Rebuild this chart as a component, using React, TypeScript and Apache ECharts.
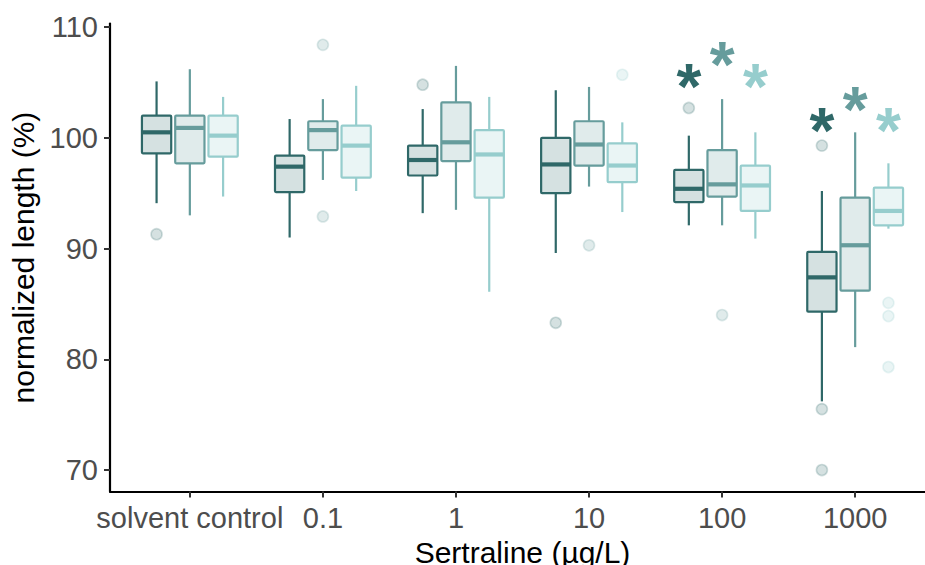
import React, { useEffect, useRef } from "react";
import * as echarts from "echarts";

// Concentration groups along the x axis
const categories = ["solvent control", "0.1", "1", "10", "100", "1000"];

// Box statistics per group: [min whisker, Q1, median, Q3, max whisker]
const boxesDark = [
  [94.1, 98.6, 100.5, 102.0, 105.1],
  [91.0, 95.1, 97.4, 98.4, 101.7],
  [93.2, 96.6, 98.0, 99.3, 102.6],
  [89.6, 95.0, 97.6, 100.0, 104.3],
  [92.1, 94.2, 95.4, 97.1, 100.2],
  [76.2, 84.3, 87.4, 89.7, 95.2],
];
const boxesMid = [
  [93.0, 97.7, 100.9, 102.0, 106.2],
  [96.2, 98.9, 100.7, 101.5, 103.5],
  [93.5, 97.9, 99.6, 103.2, 106.5],
  [95.6, 97.5, 99.4, 101.5, 104.6],
  [92.1, 94.7, 95.8, 98.9, 103.5],
  [81.1, 86.2, 90.3, 94.6, 100.5],
];
const boxesLight = [
  [94.7, 98.3, 100.2, 102.0, 103.7],
  [95.2, 96.4, 99.3, 101.1, 104.7],
  [86.1, 94.6, 98.5, 100.7, 103.7],
  [93.3, 96.0, 97.5, 99.5, 101.4],
  [90.9, 93.4, 95.7, 97.5, 100.5],
  [91.8, 92.1, 93.4, 95.5, 97.7],
];

// Outliers per group, listed by category
const outliersDark = [[91.3], [], [104.8], [83.3], [102.7], [99.3, 75.5, 70.0]];
const outliersMid = [[], [108.4, 92.9], [], [90.3], [84.0], []];
const outliersLight = [[], [], [], [105.7], [], [85.1, 83.9, 79.3]];

// Significance markers: categories and heights for each group
const starCategories = ["100", "1000"];
const starLevelsDark = [105.4, 101.4];
const starLevelsMid = [107.4, 103.35];
const starLevelsLight = [105.4, 101.4];

const yTicks = [70, 80, 90, 100, 110];

const COLORS = ["#2F6868", "#669C9C", "#96CDCD"];
const FONT = "'Liberation Sans', Arial, Helvetica, sans-serif";
const DODGE = [-0.25, 0, 0.25];
const BOX_W = 0.22;
const STAR_SIZE = 64;

function rgba(hex: string, a: number) {
  const n = parseInt(hex.slice(1), 16);
  return `rgba(${(n >> 16) & 255},${(n >> 8) & 255},${n & 255},${a})`;
}

function boxSeries(boxes: number[][], k: number) {
  const color = COLORS[k];
  return {
    type: "custom",
    name: "box" + k,
    z: 2,
    encode: { x: 0, y: [1, 2, 3, 4, 5] },
    data: boxes.map((b, i) => [i, ...b]),
    renderItem: (_params: any, api: any) => {
      const x = api.value(0) + DODGE[k];
      const [vMin, q1, med, q3, vMax] = [1, 2, 3, 4, 5].map((d) => api.value(d));
      const pMin = api.coord([x, vMin]);
      const pQ1 = api.coord([x, q1]);
      const pMed = api.coord([x, med]);
      const pQ3 = api.coord([x, q3]);
      const pMax = api.coord([x, vMax]);
      const left = api.coord([x - BOX_W / 2, q1])[0];
      const right = api.coord([x + BOX_W / 2, q1])[0];
      const lineStyle = { stroke: color, lineWidth: 2.2, fill: null };
      return {
        type: "group",
        children: [
          { type: "line", shape: { x1: pMax[0], y1: pMax[1], x2: pQ3[0], y2: pQ3[1] }, style: lineStyle },
          { type: "line", shape: { x1: pMin[0], y1: pMin[1], x2: pQ1[0], y2: pQ1[1] }, style: lineStyle },
          {
            type: "rect",
            shape: { x: left, y: pQ3[1], width: right - left, height: pQ1[1] - pQ3[1], r: 1 },
            style: { fill: rgba(color, 0.2), stroke: color, lineWidth: 2.2 },
          },
          {
            type: "line",
            shape: { x1: left, y1: pMed[1], x2: right, y2: pMed[1] },
            style: { stroke: color, lineWidth: 4.2 },
          },
        ],
      };
    },
  };
}

function outlierSeries(outliers: number[][], k: number) {
  const color = COLORS[k];
  const data: number[][] = [];
  outliers.forEach((vals, i) => vals.forEach((v) => data.push([i + DODGE[k], v])));
  return {
    type: "scatter",
    name: "out" + k,
    z: 1,
    symbol: "circle",
    symbolSize: 11,
    data,
    itemStyle: { color: rgba(color, 0.2), borderColor: rgba(color, 0.22), borderWidth: 1.6, opacity: 1 },
  };
}

function starSeries(levels: number[], k: number) {
  const color = COLORS[k];
  return {
    type: "custom",
    name: "star" + k,
    z: 3,
    data: levels.map((v, j) => [categories.indexOf(starCategories[j]) + DODGE[k], v]),
    renderItem: (_params: any, api: any) => {
      const p = api.coord([api.value(0), api.value(1)]);
      return {
        type: "text",
        x: p[0],
        y: p[1] + STAR_SIZE * 0.14,
        style: {
          text: "*",
          fill: color,
          fontSize: STAR_SIZE,
          fontWeight: "bold",
          fontFamily: FONT,
          align: "center",
          verticalAlign: "middle",
        },
      };
    },
  };
}

export default function App() {
  const ref = useRef<HTMLDivElement>(null);

  useEffect(() => {
    if (!ref.current) return;
    const chart = echarts.init(ref.current, undefined, { renderer: "svg" });
    const tickStyle = { color: "#333333", width: 2 };
    chart.setOption({
      animation: false,
      backgroundColor: "#ffffff",
      grid: { left: 110, right: -10, top: 23.6, bottom: 73.5, containLabel: false, outerBoundsMode: "none" },
      xAxis: {
        type: "value",
        min: -0.6,
        max: 5.6,
        name: "Sertraline (µg/L)",
        nameLocation: "middle",
        nameGap: 41,
        nameTextStyle: { fontSize: 30, color: "#000000", fontFamily: FONT },
        axisLine: { show: true, onZero: false, lineStyle: { color: "#000000", width: 2.2 } },
        axisTick: { show: true, length: 6, lineStyle: tickStyle, customValues: categories.map((_, i) => i) },
        axisLabel: {
          customValues: categories.map((_, i) => i),
          formatter: (v: number) => categories[Math.round(v)] ?? "",
          fontSize: 29,
          color: "#4D4D4D",
          fontFamily: FONT,
          margin: 12,
        },
        splitLine: { show: false },
      },
      yAxis: {
        type: "value",
        min: 68.06,
        max: 110.32,
        name: "normalized length (%)",
        nameLocation: "middle",
        nameGap: 70,
        nameTextStyle: { fontSize: 30, color: "#000000", fontFamily: FONT },
        axisLine: { show: true, onZero: false, lineStyle: { color: "#000000", width: 2.2 } },
        axisTick: { show: true, length: 6, lineStyle: tickStyle, customValues: yTicks },
        axisLabel: { customValues: yTicks, fontSize: 29, color: "#4D4D4D", fontFamily: FONT, margin: 12 },
        splitLine: { show: false },
      },
      series: [
        outlierSeries(outliersDark, 0),
        outlierSeries(outliersMid, 1),
        outlierSeries(outliersLight, 2),
        boxSeries(boxesDark, 0),
        boxSeries(boxesMid, 1),
        boxSeries(boxesLight, 2),
        starSeries(starLevelsDark, 0),
        starSeries(starLevelsMid, 1),
        starSeries(starLevelsLight, 2),
      ],
    });
    return () => chart.dispose();
  }, []);

  return (
    <div
      ref={ref}
      style={{ position: "fixed", left: 0, top: 0, width: 925, height: 565, background: "#ffffff" }}
    />
  );
}
